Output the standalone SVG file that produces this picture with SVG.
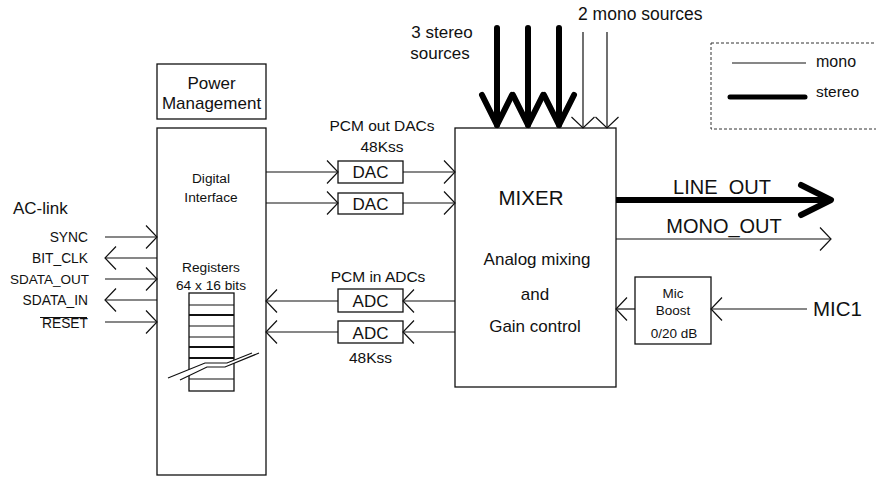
<svg xmlns="http://www.w3.org/2000/svg" width="876" height="477" viewBox="0 0 876 477">
<style>
text{font-family:"Liberation Sans",Arial,sans-serif;fill:#111}
.box{fill:#fff;stroke:#111;stroke-width:1.3}
.ln{stroke:#111;stroke-width:1.2;fill:none}
.thk{stroke:#000;stroke-width:6;fill:none;stroke-linecap:round}
.m{text-anchor:middle}
.e{text-anchor:end}
</style>
<defs>
<marker id="ah" markerUnits="userSpaceOnUse" viewBox="-14 -14 16 28" markerWidth="16" markerHeight="28" refX="0" refY="0" orient="auto" overflow="visible">
<path d="M-11,-11.5 L0,0 L-11,11.5" fill="none" stroke="#111" stroke-width="1.2"/>
</marker>
<marker id="aht" markerUnits="userSpaceOnUse" viewBox="-34 -19 40 38" markerWidth="40" markerHeight="38" refX="0" refY="0" orient="auto" overflow="visible">
<path d="M-30,-15 L0,0 L-30,15" fill="none" stroke="#000" stroke-width="6" stroke-linecap="round" stroke-linejoin="round"/>
</marker>
</defs>

<g id="legend">
<rect x="711" y="43" width="200" height="86" fill="none" stroke="#333" stroke-width="1" stroke-dasharray="3,2"/>
<line x1="732" y1="63" x2="806" y2="63" class="ln"/>
<line x1="730" y1="97" x2="805" y2="97" stroke="#000" stroke-width="5" stroke-linecap="round"/>
<text x="816" y="67" font-size="16">mono</text>
<text x="816" y="97" font-size="15.5">stereo</text>
</g>

<g id="source-labels">
<text x="442" y="38" font-size="17" class="m">3 stereo</text>
<text x="440" y="59" font-size="17" class="m">sources</text>
<text x="578" y="20" font-size="17.5">2 mono sources</text>
</g>

<g id="aclink">
<text x="13" y="214" font-size="17">AC-link</text>
<text x="88" y="242" font-size="13.8" class="e">SYNC</text>
<text x="88" y="263" font-size="13.8" class="e">BIT_CLK</text>
<text x="89" y="284" font-size="13.5" class="e">SDATA_OUT</text>
<text x="88" y="305" font-size="13.8" class="e">SDATA_IN</text>
<text x="88" y="328" font-size="13.8" class="e">RESET</text>
<line x1="40" y1="317.5" x2="87" y2="317.5" class="ln"/>
</g>

<g id="power">
<rect x="157" y="64" width="109" height="55" class="box"/>
<text x="211.5" y="89" font-size="17" class="m">Power</text>
<text x="211.5" y="109" font-size="17" class="m">Management</text>
</g>

<g id="digital">
<rect x="157" y="128" width="109" height="347" class="box"/>
<text x="211" y="183" font-size="13.7" class="m">Digital</text>
<text x="211" y="202" font-size="13.7" class="m">Interface</text>
<text x="211" y="272" font-size="13.7" class="m">Registers</text>
<text x="211" y="290" font-size="13.7" class="m">64 x 16 bits</text>
<rect x="189" y="293" width="45" height="98" fill="#fff" stroke="#111" stroke-width="1.3"/>
<g class="ln">
<line x1="189" y1="305" x2="234" y2="305"/>
<line x1="189" y1="315" x2="234" y2="315" stroke-width="2"/>
<line x1="189" y1="326" x2="234" y2="326"/>
<line x1="189" y1="337" x2="234" y2="337"/>
<line x1="189" y1="347" x2="234" y2="347" stroke-width="2"/>
<line x1="189" y1="358" x2="234" y2="358" stroke-width="2"/>
<line x1="189" y1="379" x2="234" y2="379"/>
</g>
<polygon points="168,378 205,363 227,363 252,353 259,353 225,367 207,367 180,380" fill="#fff" stroke="none"/>
<polyline points="168,378 205,363 227,363 252,353" class="ln"/>
<polyline points="180,380 207,367 225,367 259,353" class="ln"/>
</g>

<g id="dacs">
<text x="382" y="130.5" font-size="15.5" class="m">PCM out DACs</text>
<text x="382" y="152" font-size="15.5" class="m">48Kss</text>
<rect x="338" y="161" width="65" height="22" class="box"/>
<text x="370.5" y="178" font-size="17" class="m">DAC</text>
<rect x="338" y="193" width="65" height="21" class="box"/>
<text x="370.5" y="209.5" font-size="17" class="m">DAC</text>
</g>

<g id="adcs">
<text x="378" y="281.5" font-size="15.5" class="m">PCM in ADCs</text>
<rect x="338" y="289" width="65" height="23" class="box"/>
<text x="370.5" y="307" font-size="17" class="m">ADC</text>
<rect x="338" y="321" width="65" height="22" class="box"/>
<text x="370.5" y="338.5" font-size="17" class="m">ADC</text>
<text x="370.5" y="362.5" font-size="15.5" class="m">48Kss</text>
</g>

<g id="mixer">
<rect x="455" y="128" width="161" height="259" class="box"/>
<text x="531" y="205" font-size="20.5" class="m">MIXER</text>
<text x="537" y="265" font-size="17" class="m">Analog mixing</text>
<text x="535" y="300" font-size="17" class="m">and</text>
<text x="535" y="332" font-size="17" class="m">Gain control</text>
</g>

<g id="micboost">
<rect x="635" y="277" width="76" height="67" class="box"/>
<text x="673" y="298" font-size="13.5" class="m">Mic</text>
<text x="673" y="315" font-size="13.5" class="m">Boost</text>
<text x="674" y="338" font-size="13.5" class="m">0/20 dB</text>
</g>

<g id="output-labels">
<text x="722" y="194" font-size="20" class="m">LINE_OUT</text>
<text x="724" y="233" font-size="20" class="m">MONO_OUT</text>
<text x="813" y="316" font-size="20.5">MIC1</text>
</g>

<g id="connectors">
<g class="ln">
<line x1="105" y1="237" x2="157" y2="237" marker-end="url(#ah)"/>
<line x1="157" y1="258" x2="105" y2="258" marker-end="url(#ah)"/>
<line x1="105" y1="279" x2="157" y2="279" marker-end="url(#ah)"/>
<line x1="157" y1="300" x2="105" y2="300" marker-end="url(#ah)"/>
<line x1="105" y1="322" x2="157" y2="322" marker-end="url(#ah)"/>
<line x1="266" y1="172" x2="338" y2="172" marker-end="url(#ah)"/>
<line x1="403" y1="172" x2="455" y2="172" marker-end="url(#ah)"/>
<line x1="266" y1="203" x2="338" y2="203" marker-end="url(#ah)"/>
<line x1="403" y1="203" x2="455" y2="203" marker-end="url(#ah)"/>
<line x1="455" y1="301" x2="403" y2="301" marker-end="url(#ah)"/>
<line x1="338" y1="301" x2="266" y2="301" marker-end="url(#ah)"/>
<line x1="455" y1="332" x2="403" y2="332" marker-end="url(#ah)"/>
<line x1="338" y1="332" x2="266" y2="332" marker-end="url(#ah)"/>
<line x1="583" y1="32" x2="583" y2="128" marker-end="url(#ah)"/>
<line x1="607" y1="32" x2="607" y2="128" marker-end="url(#ah)"/>
<line x1="616" y1="239" x2="831" y2="239" marker-end="url(#ah)"/>
<line x1="807" y1="309" x2="711" y2="309" marker-end="url(#ah)"/>
<line x1="635" y1="309" x2="616" y2="309" marker-end="url(#ah)"/>
</g>
<g class="thk">
<line x1="497" y1="28" x2="497" y2="125" marker-end="url(#aht)"/>
<line x1="528" y1="28" x2="528" y2="125" marker-end="url(#aht)"/>
<line x1="559" y1="28" x2="559" y2="125" marker-end="url(#aht)"/>
<line x1="616" y1="200" x2="831" y2="200" stroke-linecap="butt" marker-end="url(#aht)"/>
</g>
</g>
</svg>
